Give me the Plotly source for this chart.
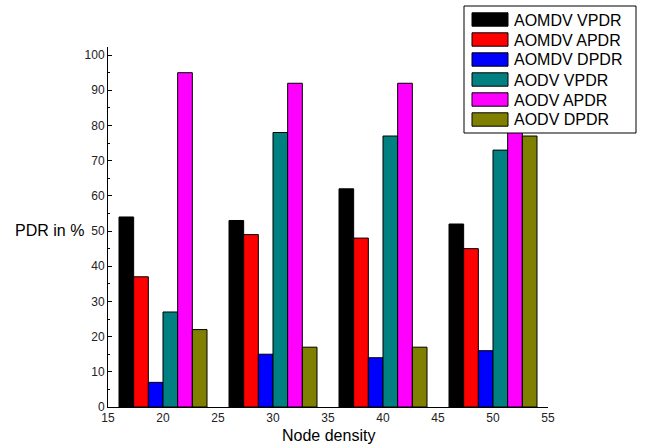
import plotly.graph_objects as go

node_density = [20, 30, 40, 50]
series_names = ["AOMDV VPDR", "AOMDV APDR", "AOMDV DPDR", "AODV VPDR", "AODV APDR", "AODV DPDR"]
aomdv_vpdr = [54, 53, 62, 52]
aomdv_apdr = [37, 49, 48, 45]
aomdv_dpdr = [7, 15, 14, 16]
aodv_vpdr = [27, 78, 77, 73]
aodv_apdr = [95, 92, 92, 91]
aodv_dpdr = [22, 17, 17, 77]
colors = ["#000000", "#FF0000", "#0000FF", "#008080", "#FF00FF", "#808000"]
x_ticks = [15, 20, 25, 30, 35, 40, 45, 50, 55]
y_ticks = [0, 10, 20, 30, 40, 50, 60, 70, 80, 90, 100]

series = [aomdv_vpdr, aomdv_apdr, aomdv_dpdr, aodv_vpdr, aodv_apdr, aodv_dpdr]

W, H = 645, 447
ML, MR, MT, MB = 108, 97, 47, 40
PW, PH = W - ML - MR, H - MT - MB


def px(X):
    return (X - ML) / PW


def py(Y):
    return (H - MB - Y) / PH


fig = go.Figure()
for name, vals, c in zip(series_names, series, colors):
    fig.add_trace(go.Bar(x=node_density, y=vals, name=name,
                         marker=dict(color=c, line=dict(color="black", width=1))))

font = "Liberation Sans, Arial, sans-serif"

# legend drawn as box + swatches + labels
shapes = [dict(type="rect", xref="paper", yref="paper",
               x0=px(464), x1=px(636), y0=py(133), y1=py(6),
               fillcolor="white", line=dict(color="black", width=1), layer="above")]
annotations = []
for i, (name, c) in enumerate(zip(series_names, colors)):
    cy = 19.5 + 20 * i
    shapes.append(dict(type="rect", xref="paper", yref="paper",
                       x0=px(472), x1=px(508), y0=py(cy + 6.7), y1=py(cy - 6.7),
                       fillcolor=c, line=dict(color="black", width=1), layer="above"))
    annotations.append(dict(text=name, x=px(512), y=py(cy + 0.5), xref="paper", yref="paper",
                            xanchor="left", yanchor="middle", showarrow=False,
                            font=dict(family=font, size=16, color="black")))

annotations.append(dict(text="PDR in %", x=px(86), y=py(230), xref="paper", yref="paper",
                        xanchor="right", yanchor="middle", showarrow=False,
                        font=dict(family=font, size=16, color="black")))
annotations.append(dict(text="Node density", x=px(328), y=py(435), xref="paper", yref="paper",
                        xanchor="center", yanchor="middle", showarrow=False,
                        font=dict(family=font, size=16, color="black")))

fig.update_layout(
    width=W, height=H,
    margin=dict(l=ML, r=MR, t=MT, b=MB),
    paper_bgcolor="white", plot_bgcolor="white",
    barmode="group", bargap=0.2, bargroupgap=0,
    font=dict(family=font, size=12, color="#222"),
    showlegend=False,
    xaxis=dict(range=[15, 55], tickvals=x_ticks, showgrid=False, zeroline=False,
               showline=True, linecolor="black", linewidth=1,
               ticks="", tickfont=dict(size=12, color="#222")),
    yaxis=dict(range=[0, 102.3], tickvals=y_ticks, showgrid=False, zeroline=False,
               showline=True, linecolor="black", linewidth=1,
               ticks="inside", ticklen=4, tickcolor="black",
               minor=dict(dtick=5, ticks="inside", ticklen=2, tickcolor="black"),
               tickfont=dict(size=12, color="#222")),
    shapes=shapes,
    annotations=annotations,
)

fig.write_html("out.html")
